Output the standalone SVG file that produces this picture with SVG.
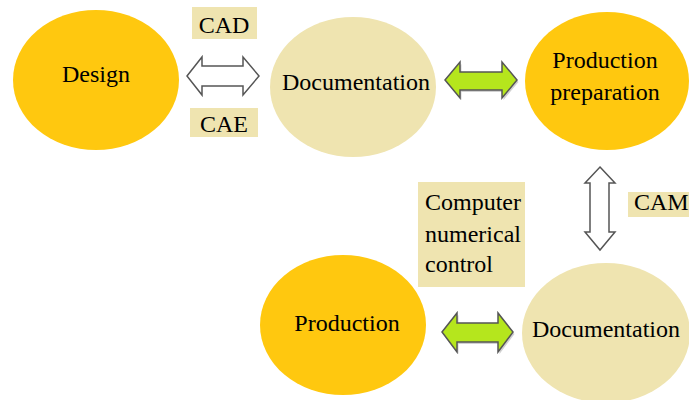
<svg xmlns="http://www.w3.org/2000/svg" width="689" height="400" viewBox="0 0 689 400">
  <style>
    .gold { fill: #FFC80F; }
    .beige { fill: #EFE4B0; }
    .lbl { fill: #EFE4B0; }
    text { font-family: 'Liberation Serif', 'DejaVu Serif', 'Noto Serif', 'Times New Roman', serif; font-size: 24px; fill: #000; }
    .c { text-anchor: middle; }
    .hollow { fill: #FFFFFF; stroke: #555555; stroke-width: 1.5; stroke-linejoin: miter; }
    .green { fill: #B5E61D; stroke: #555555; stroke-width: 1.5; stroke-linejoin: miter; }
    .shadow { fill: #9A9A9A; opacity: 0.45; }
  </style>
  <rect width="689" height="400" fill="#FFFFFF"/>

  <g id="connectors">
    <!-- Design <-> Documentation -->
    <polygon class="hollow" points="187,76 202,57 202,66 243,66 243,57 259,76 243,95 243,86 202,86 202,95"/>
    <!-- Documentation <-> Production preparation -->
    <polygon class="shadow" transform="translate(1.5,2)" points="445,80 460,62 460,72 502,72 502,62 517,80 502,98 502,90 460,90 460,98"/>
    <polygon class="green" points="445,80 460,62 460,72 502,72 502,62 517,80 502,98 502,90 460,90 460,98"/>
    <!-- Production preparation <-> Documentation -->
    <polygon class="hollow" points="600,167 615,183 609,183 609,232 615,232 600,250 585,232 590,232 590,183 585,183"/>
    <!-- Production <-> Documentation -->
    <polygon class="shadow" transform="translate(1.5,2)" points="442,332 457,313 457,323 498,323 498,313 513,332 498,352 498,342 457,342 457,352"/>
    <polygon class="green" points="442,332 457,313 457,323 498,323 498,313 513,332 498,352 498,342 457,342 457,352"/>
  </g>

  <g id="label-cad">
    <rect class="lbl" x="192" y="7" width="65" height="32"/>
    <text class="c" x="224" y="33">CAD</text>
  </g>
  <g id="label-cae">
    <rect class="lbl" x="190" y="108" width="68" height="29"/>
    <text class="c" x="224" y="132">CAE</text>
  </g>
  <g id="label-cam">
    <rect class="lbl" x="628" y="192" width="61" height="25"/>
    <text x="634" y="210">CAM</text>
  </g>
  <g id="label-cnc">
    <rect class="lbl" x="418" y="182" width="107" height="105"/>
    <text x="425" y="210">Computer</text>
    <text x="425" y="242">numerical</text>
    <text x="425" y="272">control</text>
  </g>

  <g id="node-design">
    <ellipse class="gold" cx="96" cy="80" rx="83" ry="70"/>
    <text class="c" x="96" y="82">Design</text>
  </g>
  <g id="node-documentation-top">
    <ellipse class="beige" cx="353" cy="87" rx="83" ry="70"/>
    <text class="c" x="356" y="90">Documentation</text>
  </g>
  <g id="node-production-preparation">
    <ellipse class="gold" cx="607" cy="81" rx="82" ry="69"/>
    <text class="c" x="605" y="68">Production</text>
    <text class="c" x="605" y="100">preparation</text>
  </g>
  <g id="node-production">
    <ellipse class="gold" cx="343" cy="325" rx="83" ry="70"/>
    <text class="c" x="347" y="331">Production</text>
  </g>
  <g id="node-documentation-bottom">
    <ellipse class="beige" cx="606" cy="333" rx="84" ry="70"/>
    <text class="c" x="606" y="337">Documentation</text>
  </g>
</svg>
